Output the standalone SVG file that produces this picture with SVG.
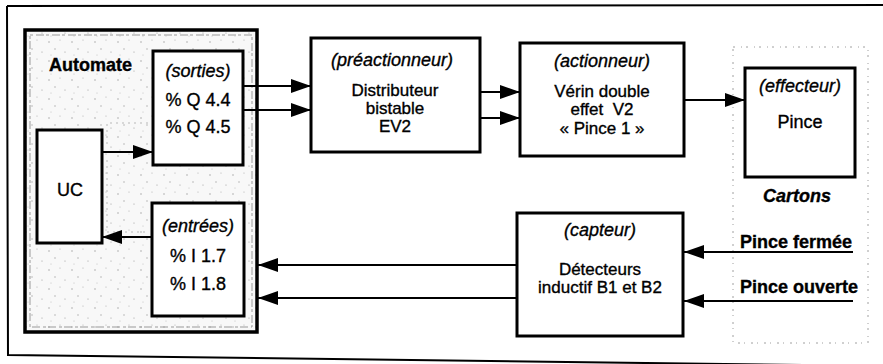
<svg xmlns="http://www.w3.org/2000/svg" width="883" height="364" viewBox="0 0 883 364">
  <style>
    .box { fill: #ffffff; stroke: #000000; stroke-width: 3; }
    .plc { fill: url(#stipple); stroke: #000000; stroke-width: 3.5; }
    .dash { fill: none; stroke: #9a9a9a; stroke-width: 1; stroke-dasharray: 3 3 8 2; }
    .faint { fill: none; stroke: #b8b8b8; stroke-width: 1; stroke-dasharray: 2 4; }
    .zone { fill: none; stroke: #a0a0a0; stroke-width: 1; stroke-dasharray: 2 6 1 4; }
    .wire { fill: none; stroke: #000000; stroke-width: 2; marker-end: url(#head); }
    text { font-family: "Liberation Sans", Arial, sans-serif; font-size: 18px; fill: #000000; stroke: #000000; stroke-width: 0.35; text-anchor: middle; }
    .tight { font-size: 17px; }
    .it { font-style: italic; }
    .bd { font-weight: bold; }
    .st { text-anchor: start; }
  </style>
  <defs>
    <marker id="head" markerUnits="userSpaceOnUse" markerWidth="22" markerHeight="16" refX="20" refY="7" orient="auto">
      <path d="M0,0 L20,7 L0,14 Z" fill="#000000"/>
    </marker>
    <pattern id="stipple" patternUnits="userSpaceOnUse" width="23" height="19">
      <rect width="23" height="19" fill="#f8f8f8"/>
      <circle cx="3" cy="4" r="0.7" fill="#9a9a9a"/>
      <circle cx="14" cy="2" r="0.6" fill="#b0b0b0"/>
      <circle cx="9" cy="11" r="0.7" fill="#a5a5a5"/>
      <circle cx="19" cy="14" r="0.6" fill="#9a9a9a"/>
      <circle cx="5" cy="17" r="0.5" fill="#b5b5b5"/>
    </pattern>
  </defs>

  <!-- outer frame -->
  <path d="M7,6 L883,5 M7,6 L8,355 L883,366" fill="none" stroke="#000000" stroke-width="2"/>

  <!-- PLC enclosure -->
  <g id="automate">
    <rect class="plc" x="25" y="30" width="232" height="302"/>
    <rect class="dash" x="30" y="35" width="222" height="292"/>
    <path class="faint" d="M107,144 L107,123 L148,123 M107,160 L107,232 L148,232"/>
    <text class="bd st" x="49" y="71">Automate</text>
  </g>

  <g id="uc">
    <rect class="box" x="37" y="130" width="65" height="113"/>
    <text x="70" y="196">UC</text>
  </g>

  <g id="sorties">
    <rect class="box" x="153" y="51" width="90" height="114"/>
    <text x="198" y="77"><tspan class="it">(sorties)</tspan><tspan x="198" dy="29">% Q 4.4</tspan><tspan x="198" dy="27">% Q 4.5</tspan></text>
  </g>

  <g id="entrees">
    <rect class="box" x="152" y="203" width="92" height="113"/>
    <text x="198" y="232"><tspan class="it">(entrées)</tspan><tspan x="198" dy="30">% I 1.7</tspan><tspan x="198" dy="28">% I 1.8</tspan></text>
  </g>

  <g id="preactionneur">
    <rect class="box" x="311" y="38" width="169" height="114"/>
    <text class="it" x="392" y="66">(préactionneur)</text>
    <text class="tight" x="395" y="96">Distributeur<tspan x="395" dy="18">bistable</tspan><tspan x="395" dy="18">EV2</tspan></text>
  </g>

  <g id="actionneur">
    <rect class="box" x="520" y="43" width="164" height="113"/>
    <text class="it" x="602" y="67">(actionneur)</text>
    <text class="tight" x="602" y="97" xml:space="preserve">Vérin double<tspan x="602" dy="18">effet  V2</tspan><tspan x="602" dy="19">« Pince 1 »</tspan></text>
  </g>

  <!-- work zone (cartons) -->
  <g id="cartons">
    <rect class="zone" x="733" y="47" width="135" height="296"/>
    <text class="bd it" x="797" y="202">Cartons</text>
    <text class="bd st" x="740" y="248">Pince fermée</text>
    <text class="bd st" x="740" y="293">Pince ouverte</text>
  </g>

  <g id="effecteur">
    <rect class="box" x="745" y="68" width="110" height="109"/>
    <text class="it" x="800" y="92">(effecteur)</text>
    <text x="800" y="128">Pince</text>
  </g>

  <g id="capteur">
    <rect class="box" x="517" y="213" width="166" height="123"/>
    <text class="it" x="600" y="236">(capteur)</text>
    <text class="tight" x="600" y="275">Détecteurs<tspan x="600" dy="18">inductif B1 et B2</tspan></text>
  </g>

  <g id="connectors">
    <line class="wire" x1="102" y1="152" x2="153" y2="152"/>
    <line class="wire" x1="152" y1="237" x2="102" y2="237"/>
    <line class="wire" x1="243" y1="86" x2="311" y2="86"/>
    <line class="wire" x1="243" y1="110" x2="311" y2="110"/>
    <line class="wire" x1="480" y1="92" x2="520" y2="92"/>
    <line class="wire" x1="480" y1="118" x2="520" y2="118"/>
    <line class="wire" x1="684" y1="100" x2="745" y2="100"/>
    <line class="wire" x1="853" y1="252" x2="684" y2="252"/>
    <line class="wire" x1="853" y1="301" x2="684" y2="301"/>
    <line class="wire" x1="517" y1="265" x2="258" y2="265"/>
    <line class="wire" x1="517" y1="298" x2="258" y2="298"/>
  </g>
</svg>
